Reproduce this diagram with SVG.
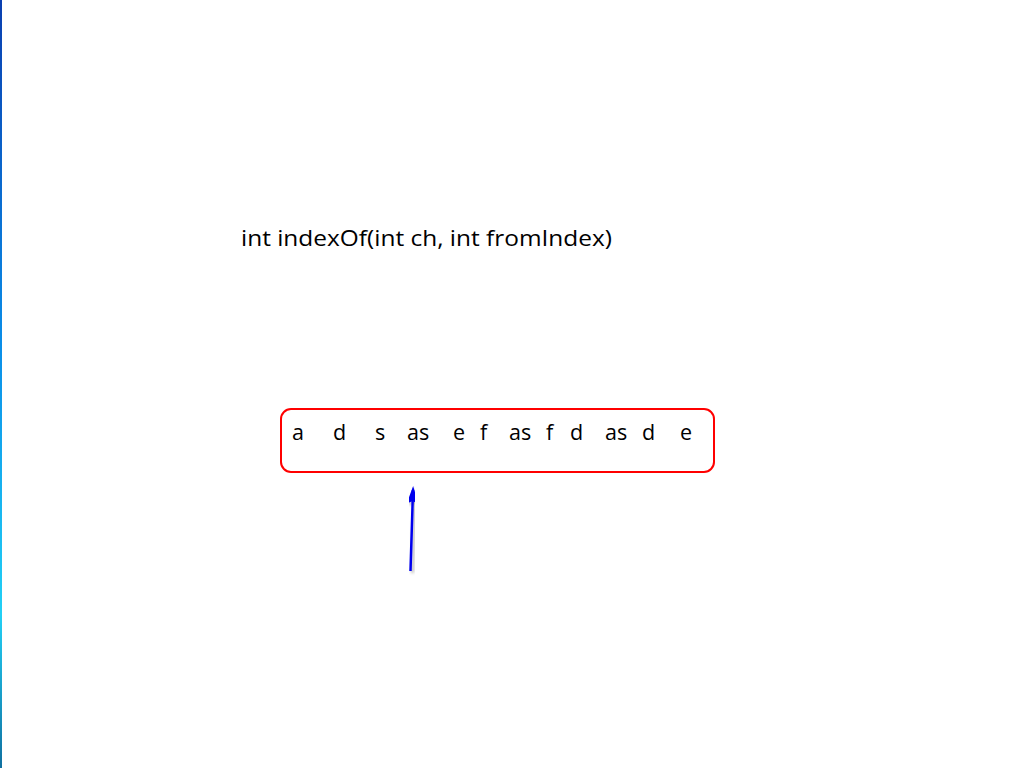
<svg xmlns="http://www.w3.org/2000/svg" width="1024" height="768" viewBox="0 0 1024 768">
<style>
.t{font-family:"Open Sans","Noto Sans","DejaVu Sans",sans-serif;fill:#000}
.tok{font-size:21.5px}
</style>
<defs>
<linearGradient id="edge" x1="0" y1="0" x2="0" y2="1">
<stop offset="0" stop-color="#0a3fb0"/>
<stop offset="0.45" stop-color="#0a8ee8"/>
<stop offset="0.8" stop-color="#22d0f5"/>
<stop offset="1" stop-color="#1070a0"/>
</linearGradient>
<marker id="ah" markerWidth="18" markerHeight="12" refX="14" refY="6" orient="auto" markerUnits="userSpaceOnUse" viewBox="0 0 18 12">
<path d="M0,0 L18,6 L0,12 L3,6 Z" fill="#0000ee"/>
</marker>
<filter id="sh" x="-50%" y="-20%" width="200%" height="140%">
<feDropShadow dx="2" dy="2" stdDeviation="1.5" flood-color="#000" flood-opacity="0.3"/>
</filter>
</defs>
<rect width="1024" height="768" fill="#fff"/>
<rect x="0" y="0" width="2" height="768" fill="url(#edge)"/>
<g id="title">
<text class="t" x="241" y="246" font-size="22.5" textLength="371" lengthAdjust="spacingAndGlyphs">int indexOf(int ch, int fromIndex)</text>
</g>
<g id="array">
<rect x="281" y="409" width="433" height="63" rx="10" ry="10" fill="none" stroke="#ff0000" stroke-width="2"/>
<text class="t tok" y="440"><tspan x="292">a</tspan><tspan x="333">d</tspan><tspan x="375">s</tspan><tspan x="407">as</tspan><tspan x="453">e</tspan><tspan x="480">f</tspan><tspan x="509">as</tspan><tspan x="546">f</tspan><tspan x="570">d</tspan><tspan x="605">as</tspan><tspan x="642">d</tspan><tspan x="680">e</tspan></text>
</g>
<g id="connectors">
<line x1="410.5" y1="571" x2="413" y2="490" stroke="#0000ee" stroke-width="2.5" marker-end="url(#ah)" filter="url(#sh)"/>
</g>
</svg>
